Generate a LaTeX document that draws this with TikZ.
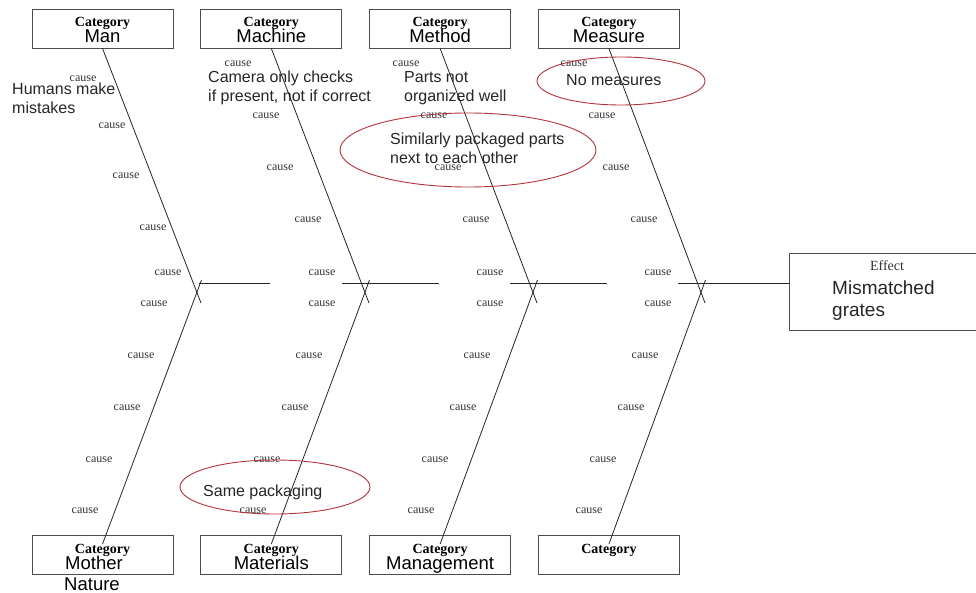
\documentclass[tikz,border=0pt]{standalone}
\usepackage{fontspec}
\setmainfont{Liberation Serif}
\setsansfont{Liberation Sans}
\usetikzlibrary{positioning,calc,shapes.geometric}
\definecolor{fbLine}{HTML}{262626}
\definecolor{fbFrame}{HTML}{4D4D4D}
\definecolor{fbRed}{HTML}{B3343B}
\definecolor{fbMuted}{HTML}{333333}
\newcommand{\catHead}{\fontsize{14}{16}\selectfont\rmfamily\bfseries}
\newcommand{\catFont}{\fontsize{18.5}{16}\selectfont\sffamily\lineskiplimit=-20pt\relax}
\tikzset{
  catBox/.style={
    draw=fbFrame,
    line width=0.8pt,
    minimum width=141pt,
    minimum height=39pt,
    inner sep=0pt,
    align=center,
    font=\catFont,
    text height=29pt,
    text depth=0pt
  },
  effectBox/.style={
    draw=fbFrame,
    line width=0.8pt,
    minimum width=196pt,
    minimum height=77pt,
    inner sep=0pt
  },
  causeLbl/.style={
    font=\fontsize{12}{12}\selectfont\rmfamily,
    text=fbMuted,
    inner sep=0pt
  },
  noteText/.style={
    font=\fontsize{16}{19}\selectfont\sffamily,
    text=fbLine,
    align=left,
    inner sep=0pt,
    anchor=north west
  },
  redRing/.style={
    ellipse,
    draw=fbRed,
    line width=0.9pt,
    inner sep=0pt
  },
  boneLine/.style={
    draw=fbLine,
    line width=0.8pt
  }
}

\begin{document}
\begin{tikzpicture}[x=1pt, y=-1pt, node distance=27pt and 27pt]
  \useasboundingbox (0,0) rectangle (976,593);
  \fill[white] (0,0) rectangle (976,593);

  \node[catBox] (man) at (102.5,28.5) {{\catHead Category}\\Man};
  \node[catBox, right=of man] (machine) {{\catHead Category}\\Machine};
  \node[catBox, right=of machine] (method) {{\catHead Category}\\Method};
  \node[catBox, right=of method] (measure) {{\catHead Category}\\Measure};

  \node[catBox] (nature) at (102.5,555) {{\catHead Category}\\Mother\hspace*{17pt}};
  \node[catBox, right=of nature] (materials) {{\catHead Category}\\Materials};
  \node[catBox, right=of materials] (management) {{\catHead Category}\\Management};
  \node[catBox, right=of management] (blank) {{\catHead Category}\\\mbox{}};
  \node[font=\catFont, inner sep=0pt, anchor=base] (naturetail) at (92,590) {Nature};

  \node[effectBox] (effect) at (887,291.5) {};
  \node[causeLbl, font=\fontsize{14}{14}\selectfont\rmfamily] (effectlbl) at (887,266) {Effect};
  \node[noteText, font=\fontsize{19}{22}\selectfont\sffamily] (problem) at (832,281) {Mismatched\\grates};

  % spine pieces
  \foreach \a/\b [count=\k] in {199/270,342/439,510/607}{
    \coordinate (spa\k) at (\a,283);
    \coordinate (spb\k) at (\b,283);
    \draw[boneLine] (spa\k) -- (spb\k);
  }
  \coordinate (spa4) at (678,283);
  \draw[boneLine] (spa4) -- (spa4 -| effect.west);

  % ribs
  \foreach \up/\down [count=\k from 0] in {man/nature,machine/materials,method/management,measure/blank}{
    \coordinate (tip\k) at (201+168*\k,303);
    \coordinate (tail\k) at (201.5+168*\k,280);
    \draw[boneLine] (\up.south) -- (tip\k);
    \draw[boneLine] ($(\down.north)+(0,9)$) -- (tail\k);
  }

  \foreach \x/\y [count=\n] in {83/79,112/126,126/176,153/228,168/273}
    \node[causeLbl] (man-c\n) at (\x,\y) {cause};
  \foreach \b in {1,2,3}
    \foreach \dx/\y [count=\n] in {0/64,28/116,42/168,70/220,84/273}
      \node[causeLbl] (up\b-c\n) at (70+168*\b+\dx,\y) {cause};
  \foreach \b in {0,...,3}
    \foreach \dx/\y [count=\n] in {0/304,-13/356,-27/408,-55/460,-69/511}
      \node[causeLbl] (down\b-c\n) at (154+168*\b+\dx,\y) {cause};

  \node[noteText] (humans) at (12,83) {Humans make\\mistakes};
  \node[noteText] (camera) at (208,71) {Camera only checks\\if present, not if correct};
  \node[noteText] (parts) at (404,71) {Parts not\\organized well};
  \node[noteText] (similar) at (390,133) {Similarly packaged parts\\next to each other};
  \node[noteText] (nomeasure) at (566,74) {No measures};
  \node[noteText] (samepack) at (203,485) {Same packaging};

  \node[redRing, minimum width=256pt, minimum height=74pt] (ringsimilar) at (468,150) {};
  \node[redRing, minimum width=168pt, minimum height=48pt] (ringmeasure) at (621,81) {};
  \node[redRing, minimum width=190pt, minimum height=54pt] (ringpack) at (275,487) {};
\end{tikzpicture}
\end{document}
